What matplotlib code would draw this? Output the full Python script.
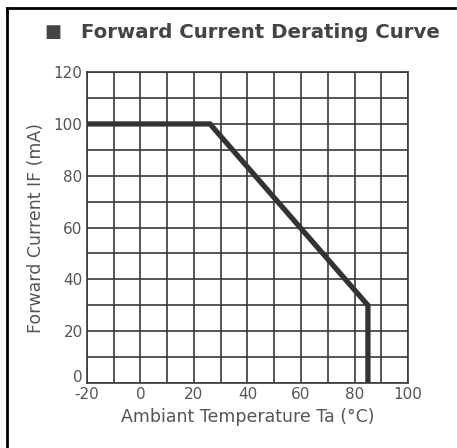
import matplotlib.pyplot as plt
import matplotlib.transforms as mtransforms
from matplotlib.lines import Line2D

# derating curve
temp = [-20, 26, 85, 85]
current = [100, 100, 30, 0]

x_ticks = [-20, 0, 20, 40, 60, 80, 100]
y_ticks = [0, 20, 40, 60, 80, 100, 120]

txt = '#555555'
grid = '#3a3a3a'

fig = plt.figure(figsize=(4.57, 4.48), dpi=100)
ax = fig.add_axes([0.190, 0.145, 0.703, 0.694])

ax.plot(temp, current, color='#333333', lw=3.8, solid_joinstyle='miter', zorder=3)

ax.set_xlim(-20, 100)
ax.set_ylim(0, 120)
ax.set_xticks(range(-20, 101, 10))
ax.set_yticks(range(0, 121, 10))
ax.grid(True, color=grid, lw=1.2)
ax.set_xticklabels([str(v) if v in x_ticks else '' for v in range(-20, 101, 10)])
ax.set_yticklabels([str(v) if v in y_ticks else '' for v in range(0, 121, 10)])
ax.tick_params(length=0, pad=3, labelsize=11, colors=txt)
ax.tick_params(axis='x', pad=3)
for s in ax.spines.values():
    s.set_color(grid)
    s.set_linewidth(1.2)

# the y "0" sits a little above the axis so it clears the "-20"
lab0 = ax.get_yticklabels()[0]
lab0.set_transform(lab0.get_transform() + mtransforms.ScaledTranslation(0, 5 / 72, fig.dpi_scale_trans))

ax.set_xlabel('Ambiant Temperature Ta (°C)', fontsize=12.5, color=txt, labelpad=4)
ax.set_ylabel('Forward Current IF (mA)', fontsize=12.5, color=txt, labelpad=6)

fig.text(0.098, 0.928, '■', fontsize=13, color='#444444', va='center')
fig.text(0.178, 0.928, 'Forward Current Derating Curve', fontsize=14.2,
         fontweight='bold', color='#444444', va='center')

# frame of the datasheet box (top and left edges only)
fig.add_artist(Line2D([0.016, 0.016], [0.0, 0.982], color='black', lw=2, transform=fig.transFigure))
fig.add_artist(Line2D([0.016, 0.996], [0.982, 0.982], color='black', lw=2, transform=fig.transFigure))

fig.savefig('out.png', dpi=100)
